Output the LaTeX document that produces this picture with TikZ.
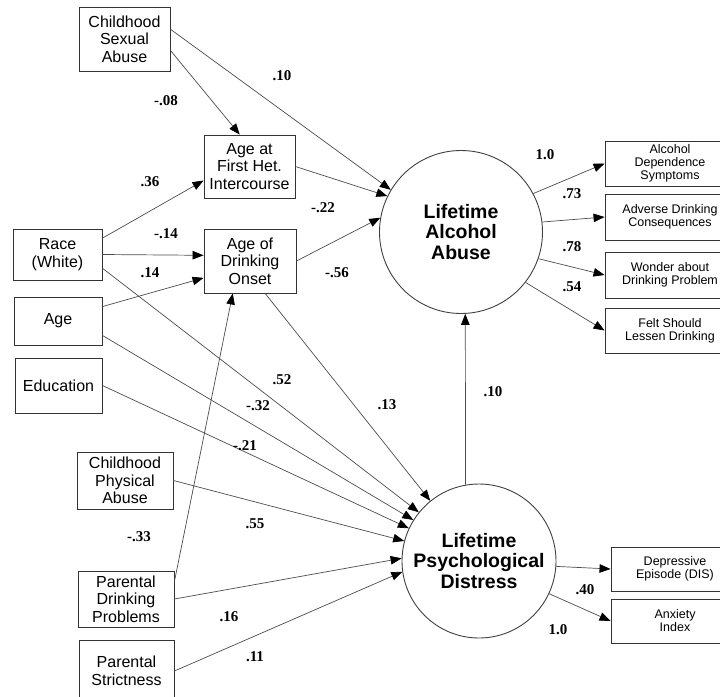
\documentclass[tikz,border=0pt]{standalone}
\usepackage{fontspec}
\setmainfont{Liberation Serif}
\setsansfont{Liberation Sans}
\usetikzlibrary{arrows.meta, positioning}

\tikzset{
  var/.style={draw=black!80, line width=0.9pt, fill=white, align=center, inner sep=1pt,
    font=\sffamily\fontsize{16}{17.5}\selectfont},
  ind/.style={var, font=\sffamily\fontsize{12.5}{13}\selectfont},
  latent/.style={draw=black!75, line width=0.9pt, circle, align=center, inner sep=0pt,
    font=\sffamily\bfseries\fontsize{19.5}{20.5}\selectfont},
  arr/.style={draw=black!70, line width=0.7pt, -{Triangle[length=11pt,width=8.5pt,color=black]}},
  coef/.style={font=\bfseries\fontsize{15}{15}\selectfont}
}

\begin{document}
\begin{tikzpicture}[x=1pt, y=1pt]
\useasboundingbox (0,0) rectangle (720,-696);

% exogenous variables
\node[var, minimum width=91, minimum height=64] (csa) at (124.5,-39) {Childhood\\Sexual\\Abuse};
\node[var, minimum width=89, minimum height=51] (race) at (57.5,-254.5) {Race\\(White)};
\node[var, minimum width=88, minimum height=48] (age) at (58,-321) {Age};
\node[var, minimum width=87, minimum height=55] (edu) at (58.5,-385.5) {Education};
\node[var, minimum width=96, minimum height=57] (cpa) at (125,-480.5) {Childhood\\Physical\\Abuse};
\node[var, minimum width=96, minimum height=56] (pdp) at (126,-599) {Parental\\Drinking\\Problems};
\node[var, minimum width=95, minimum height=62] (pst) at (126.5,-671) {Parental\\Strictness};

% mediators
\node[var, minimum width=91, minimum height=63] (afh) at (249.5,-166.5) {Age at\\First Het.\\Intercourse};
\node[var, minimum width=92, minimum height=64] (ado) at (250,-261) {Age of\\Drinking\\Onset};

% latent outcomes
\node[latent, minimum size=163] (alc) at (461,-232) {Lifetime\\Alcohol\\Abuse};
\node[latent, minimum size=154] (psy) at (479,-561) {Lifetime\\Psychological\\Distress};

% indicators
\node[ind, minimum width=130, minimum height=45] (ads) at (670,-163.5) {Alcohol\\Dependence\\Symptoms};
\node[ind, minimum width=130, minimum height=46] (adc) at (670,-217) {Adverse Drinking\\Consequences};
\node[ind, minimum width=130, minimum height=46] (wdp) at (670,-275) {Wonder about\\Drinking Problem};
\node[ind, minimum width=130, minimum height=45] (fsl) at (670,-330.5) {Felt Should\\Lessen Drinking};
\node[ind, minimum width=128, minimum height=44] (dep) at (675,-569) {Depressive\\Episode (DIS)};
\node[ind, minimum width=128, minimum height=44] (anx) at (675,-621) {Anxiety\\Index};

% structural paths
\draw[arr] (csa.-14) -- (afh.107);
\draw[arr] (csa.12) -- (alc.149);
\draw[arr] (afh.east) -- (alc.154);
\draw[arr] (race.20) -- (afh.197);
\draw[arr] (race.east) -- (ado.173);
\draw[arr] (age.18) -- (ado.200);
\draw[arr] (ado.east) -- (alc.170);
\draw[arr] (pdp.20) -- (ado.242);
\draw[arr] (ado.-65) -- (psy.129);
\draw[arr] (race.-17) -- (psy.141);
\draw[arr] (age.-18) -- (psy.148);
\draw[arr] (edu.east) -- (psy.155);
\draw[arr] (cpa.east) -- (psy.165);
\draw[arr] (pdp.east) -- (psy.178);
\draw[arr] (pst.east) -- (psy.188);
\draw[arr] (psy.100) -- (alc.-87);

% measurement paths
\draw[arr] (alc.28) -- (ads.west);
\draw[arr] (alc.7) -- (adc.west);
\draw[arr] (alc.-19) -- (wdp.west);
\draw[arr] (alc.-38) -- (fsl.west);
\draw[arr] (psy.-4) -- (dep.west);
\draw[arr] (psy.-25) -- (anx.west);

% coefficients
\node[coef] (w1) at (282,-76) {.10};
\node[coef] (w2) at (166,-101) {-.08};
\node[coef] (w3) at (150,-182) {.36};
\node[coef] (w4) at (323,-208) {-.22};
\node[coef] (w5) at (166,-234) {-.14};
\node[coef] (w6) at (150,-273) {.14};
\node[coef] (w7) at (337,-273) {-.56};
\node[coef] (w8) at (282,-380) {.52};
\node[coef] (w9) at (258,-406) {-.32};
\node[coef] (w10) at (245,-446) {-.21};
\node[coef] (w11) at (387,-405) {.13};
\node[coef] (w12) at (493,-392) {.10};
\node[coef] (w13) at (255,-524) {.55};
\node[coef] (w14) at (139,-537) {-.33};
\node[coef] (w15) at (229,-617) {.16};
\node[coef] (w16) at (255,-657) {.11};
\node[coef] (w17) at (545,-155) {1.0};
\node[coef] (w18) at (572,-194) {.73};
\node[coef] (w19) at (572,-247) {.78};
\node[coef] (w20) at (572,-287) {.54};
\node[coef] (w21) at (585,-590) {.40};
\node[coef] (w22) at (558,-630) {1.0};
\end{tikzpicture}
\end{document}
